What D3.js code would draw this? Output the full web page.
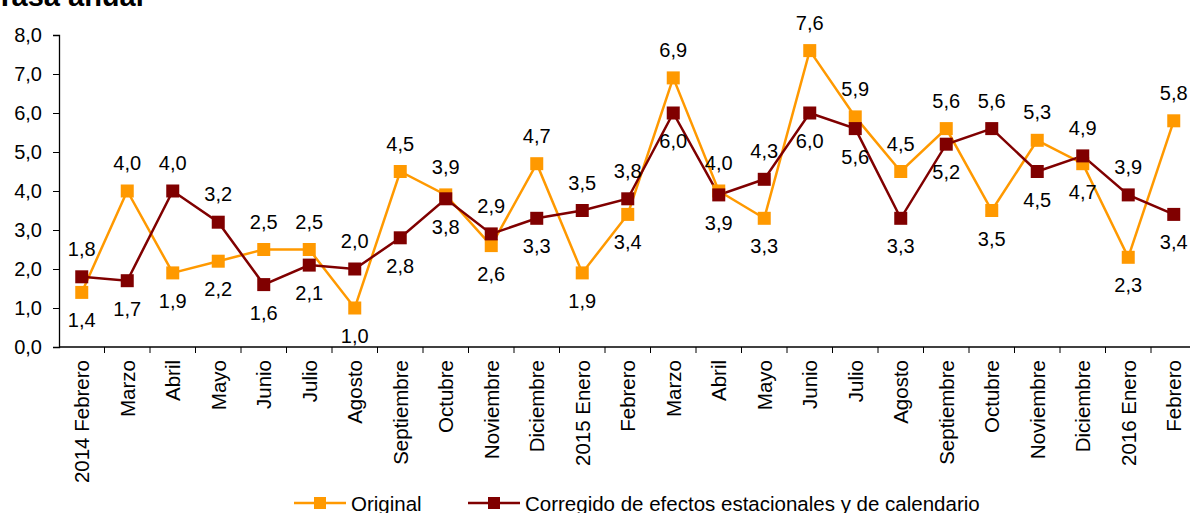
<!DOCTYPE html>
<html>
<head>
<meta charset="utf-8">
<script src="https://cdn.jsdelivr.net/npm/d3@7"></script>
<style>
  body { margin: 0; background: #fff; }
  svg { font-family: "Liberation Sans", Arial, sans-serif; }
</style>
</head>
<body>
<div id="chart"></div>
<script>
// data
var months = ["2014 Febrero", "Marzo", "Abril", "Mayo", "Junio", "Julio", "Agosto",
  "Septiembre", "Octubre", "Noviembre", "Diciembre", "2015 Enero", "Febrero", "Marzo",
  "Abril", "Mayo", "Junio", "Julio", "Agosto", "Septiembre", "Octubre", "Noviembre",
  "Diciembre", "2016 Enero", "Febrero"];
var original = [1.4, 4.0, 1.9, 2.2, 2.5, 2.5, 1.0, 4.5, 3.9, 2.6, 4.7, 1.9, 3.4, 6.9,
  4.0, 3.3, 7.6, 5.9, 4.5, 5.6, 3.5, 5.3, 4.7, 2.3, 5.8];
var corregido = [1.8, 1.7, 4.0, 3.2, 1.6, 2.1, 2.0, 2.8, 3.8, 2.9, 3.3, 3.5, 3.8, 6.0,
  3.9, 4.3, 6.0, 5.6, 3.3, 5.2, 5.6, 4.5, 4.9, 3.9, 3.4];
var yTicks = [0, 1, 2, 3, 4, 5, 6, 7, 8];
var seriesNames = ["Original", "Corregido de efectos estacionales y de calendario"];
var colors = ["#FF9900", "#800000"];

var width = 1190, height = 513;
var fmt = function(v) { return d3.format(".1f")(v).replace(".", ","); };

var svg = d3.select("#chart").append("svg")
  .attr("width", width)
  .attr("height", height);

// title, top is cut off in the original
svg.append("text")
  .attr("x", -4)
  .attr("y", 6)
  .style("font-size", "29px")
  .style("font-weight", "bold")
  .text("Tasa anual");

var idx = months.map(function(d, i) { return i; });

var x = d3.scaleBand()
  .domain(idx)
  .range([59, 59 + 25 * 45.5]);

var y = d3.scaleLinear()
  .domain([0, 8])
  .range([347, 35]);

// y axis
var yAxis = d3.axisLeft(y)
  .tickValues(yTicks)
  .tickSize(6)
  .tickPadding(11)
  .tickFormat(fmt);
var gy = svg.append("g")
  .attr("transform", "translate(59,0)")
  .call(yAxis);
gy.select(".domain").attr("stroke", "#000").attr("stroke-width", 1.3);
gy.selectAll(".tick line").attr("stroke", "#000");
gy.selectAll(".tick text")
  .style("font-size", "20px")
  .attr("fill", "#000");

// x axis, ticks sit between categories
var gx = svg.append("g")
  .attr("transform", "translate(0,347)");
gx.append("line")
  .attr("x1", 59).attr("x2", width)
  .attr("stroke", "#000").attr("stroke-width", 1.3);
gx.selectAll(".sep").data(idx.slice(1))
  .enter().append("line")
  .attr("class", "sep")
  .attr("x1", function(d) { return x(d); })
  .attr("x2", function(d) { return x(d); })
  .attr("y1", 0).attr("y2", 6)
  .attr("stroke", "#000");
gx.selectAll(".lab").data(idx)
  .enter().append("text")
  .attr("class", "lab")
  .attr("transform", function(d) {
    return "translate(" + (x(d) + x.bandwidth() / 2 + 7.5) + ",13) rotate(-90)";
  })
  .attr("text-anchor", "end")
  .style("font-size", "20.5px")
  .text(function(d) { return months[d]; });

// lines and markers
var data = [original, corregido];
var cx = function(i) { return x(i) + x.bandwidth() / 2; };
var line = d3.line()
  .x(function(d, i) { return cx(i); })
  .y(function(d) { return y(d); });

data.forEach(function(vals, s) {
  svg.append("path")
    .attr("d", line(vals))
    .attr("fill", "none")
    .attr("stroke", colors[s])
    .attr("stroke-width", 2.5);
});
data.forEach(function(vals, s) {
  svg.selectAll(".m" + s).data(vals)
    .enter().append("rect")
    .attr("class", "m" + s)
    .attr("x", function(d, i) { return cx(i) - 6.5; })
    .attr("y", function(d) { return y(d) - 6.5; })
    .attr("width", 13)
    .attr("height", 13)
    .attr("fill", colors[s]);
});

// data labels: higher value above, lower below
data.forEach(function(vals, s) {
  var other = data[1 - s];
  svg.selectAll(".l" + s).data(vals)
    .enter().append("text")
    .attr("class", "l" + s)
    .attr("x", function(d, i) { return cx(i); })
    .attr("y", function(d, i) {
      var above = s == 1 ? d >= other[i] : d > other[i];
      return above ? y(d) - 21 : y(d) + 35;
    })
    .attr("text-anchor", "middle")
    .style("font-size", "20px")
    .text(function(d) { return fmt(d); });
});

// legend
var legX = [294, 468];
var legW = [52, 52];
seriesNames.forEach(function(name, s) {
  var g = svg.append("g").attr("transform", "translate(" + legX[s] + ",503)");
  g.append("line")
    .attr("x1", 0).attr("x2", legW[s])
    .attr("stroke", colors[s]).attr("stroke-width", 2.5);
  g.append("rect")
    .attr("x", legW[s] / 2 - 6).attr("y", -6)
    .attr("width", 12).attr("height", 12)
    .attr("fill", colors[s]);
  g.append("text")
    .attr("x", legW[s] + 5)
    .attr("y", 7.5)
    .style("font-size", "20.5px")
    .text(name);
});
</script>
</body>
</html>
